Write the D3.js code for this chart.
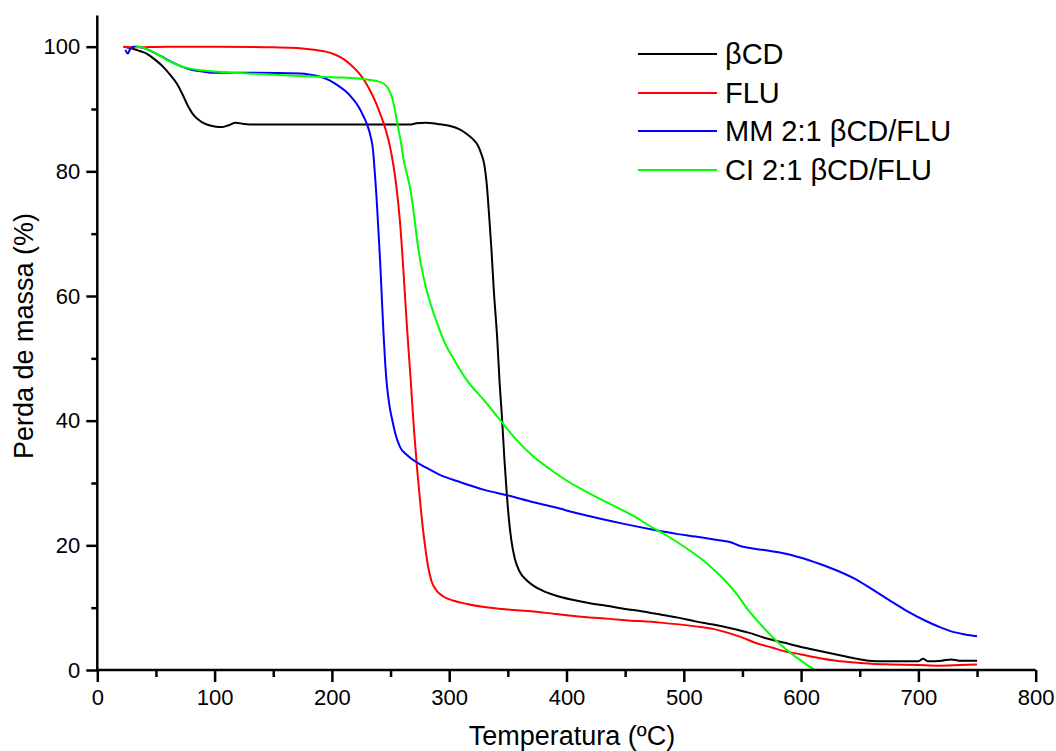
<!DOCTYPE html>
<html><head><meta charset="utf-8">
<script src="https://cdn.jsdelivr.net/npm/d3@7"></script>
<style>body{margin:0;background:#fff}svg{display:block}text{font-family:Arial,"Liberation Sans",sans-serif;fill:#000}</style>
</head><body>
<svg id="chart" width="1056" height="751"></svg>
<script>
const seriesNames = ["\u03B2CD", "FLU", "MM 2:1 \u03B2CD/FLU", "CI 2:1 \u03B2CD/FLU"];
const seriesColors = ["#000000", "#ff0000", "#0000ff", "#00ff00"];
const xTicks = [0, 100, 200, 300, 400, 500, 600, 700, 800];
const yTicks = [0, 20, 40, 60, 80, 100];
const xTitle = "Temperatura (\u00BAC)";
const yTitle = "Perda de massa (%)";

const betaCD = [[23,100],[30,99.7],[36,99.3],[42,98.9],[50,97.8],[56,96.8],[62,95.5],[68,94],[73,92.2],[77,90.6],[81,89.3],[86,88.3],[92,87.6],[100,87.2],[106,87.1],[112,87.4],[118,87.8],[125,87.6],[135,87.5],[175,87.5],[220,87.5],[266,87.5],[272,87.7],[280,87.8],[290,87.6],[300,87.3],[308,86.8],[315,86.0],[320,85.2],[324,84.3],[327,83],[330,81],[332,78],[334,73],[336,67.5],[338,61],[341,53],[343,46],[345,40.5],[347,34],[349,28.5],[351,24],[353,20.8],[356,17.8],[360,15.8],[366,14.4],[372,13.5],[380,12.7],[390,12],[404,11.3],[420,10.7],[434,10.3],[450,9.8],[465,9.4],[480,8.9],[495,8.4],[510,7.8],[525,7.3],[540,6.7],[555,6.0],[570,5.1],[585,4.4],[600,3.7],[615,3.1],[630,2.5],[645,1.9],[658,1.5],[670,1.4],[700,1.4],[704,1.8],[708,1.4],[720,1.5],[728,1.7],[735,1.5],[750,1.5]];
const flu = [[22,100],[30,99.9],[60,100],[100,100],[150,99.9],[170,99.8],[185,99.5],[195,99.2],[203,98.7],[210,98.0],[216,97.1],[222,96.0],[228,94.5],[233,92.8],[238,90.8],[242,88.8],[246,86.6],[249,84.4],[252,81.5],[255,77.5],[258,72],[261,64],[264,55],[267,47],[270,38.5],[273,31.5],[276,25.5],[279,20.5],[282,16.6],[285,14.2],[289,12.8],[295,11.8],[304,11.1],[315,10.6],[330,10.1],[350,9.7],[372,9.4],[390,9.0],[410,8.6],[430,8.3],[450,8.0],[480,7.6],[510,7.0],[525,6.6],[537,6.0],[550,5.2],[562,4.3],[575,3.6],[586,3.0],[600,2.5],[616,1.9],[630,1.5],[646,1.2],[660,1.0],[676,0.9],[700,0.8],[716,0.7],[735,0.8],[750,0.9]];
const mm21 = [[24,99.5],[26,98.9],[28,99.6],[31,100],[35,100],[42,99.6],[50,98.9],[57,98.2],[65,97.4],[72,96.8],[80,96.3],[90,96.0],[100,95.8],[130,95.8],[173,95.7],[182,95.5],[190,95.2],[198,94.6],[205,93.8],[212,92.8],[218,91.6],[223,90.3],[227,88.8],[230,87.5],[233,85.6],[235,83.5],[236.5,80],[238,76],[239.5,71],[241,66],[242.5,60],[244,54],[245.5,49],[247,45.5],[249,42.5],[251,40.5],[254,38],[258,35.8],[264,34.5],[270,33.6],[280,32.5],[292,31.3],[310,30.1],[330,28.9],[350,28],[372,26.9],[390,26.1],[410,25.1],[428,24.3],[450,23.4],[474,22.5],[495,21.8],[510,21.4],[530,20.8],[540,20.5],[548,19.9],[555,19.6],[570,19.2],[586,18.7],[600,18],[616,17],[630,16],[646,14.6],[660,13],[676,11.1],[690,9.5],[706,7.9],[718,6.9],[728,6.2],[740,5.7],[750,5.4]];
const ci21 = [[32,99.8],[36,100],[42,99.6],[50,98.9],[59,97.9],[68,97.1],[76,96.6],[85,96.3],[100,96.0],[116,95.8],[140,95.6],[173,95.3],[200,95.1],[227,94.8],[238,94.5],[244,94.1],[248,93.3],[251,92],[253,90.5],[255,88.5],[257,86.5],[259,84.5],[261,82],[264,79.5],[267,77],[270,73],[273,68.5],[276,65],[280,61.5],[284,58.8],[290,55.5],[295,53],[305,49.5],[315,46.5],[330,43.2],[343,40.2],[357,37],[372,34.2],[386,32.2],[400,30.4],[414,28.9],[428,27.5],[445,25.9],[460,24.4],[471,23.1],[486,21.5],[501,19.7],[515,17.8],[525,16.2],[534,14.6],[545,12.2],[555,9.6],[567,7.0],[580,4.5],[590,2.9],[600,1.5],[606,0.7],[612,0]];

const seriesData = [betaCD, flu, mm21, ci21];

const svg = d3.select("#chart");
const x = d3.scaleLinear().domain([0, 800]).range([97.3, 1035.7]);
const y = d3.scaleLinear().domain([0, 105]).range([670, 15.5]);

// curves
const line = d3.line().x(d => x(d[0])).y(d => y(d[1])).curve(d3.curveMonotoneX);
seriesData.forEach((s, i) => {
  svg.append("path").attr("d", line(s)).attr("fill", "none")
    .attr("stroke", seriesColors[i]).attr("stroke-width", 2).attr("stroke-linejoin", "round");
});

// axes
const xAxis = d3.axisBottom(x).tickValues(xTicks).tickSize(12).tickPadding(7).tickFormat(d3.format("d"));
const xMinor = d3.axisBottom(x).tickValues(d3.range(50, 800, 100)).tickSize(7).tickFormat("");
const yAxis = d3.axisLeft(y).tickValues(yTicks).tickSize(11).tickPadding(6).tickFormat(d3.format("d"));
const yMinor = d3.axisLeft(y).tickValues(d3.range(10, 100, 20)).tickSize(6).tickFormat("");

function style(g) {
  g.select(".domain").attr("stroke", "#000").attr("stroke-width", 2.5);
  g.selectAll(".tick line").attr("stroke", "#000").attr("stroke-width", 2.5);
  g.selectAll(".tick text").style("font-size", "22px").attr("fill", "#000");
}
const gx = svg.append("g").attr("transform", "translate(0,670)").call(xAxis); style(gx);
gx.select(".domain").attr("d", `M${x(0)},0H${x(800)}`);
const gxm = svg.append("g").attr("transform", "translate(0,670)").call(xMinor); style(gxm);
gxm.select(".domain").remove();
const gy = svg.append("g").attr("transform", "translate(97.3,0)").call(yAxis); style(gy);
gy.select(".domain").attr("d", `M0,${y(0)}V${y(105)}`);
const gym = svg.append("g").attr("transform", "translate(97.3,0)").call(yMinor); style(gym);
gym.select(".domain").remove();

// titles
svg.append("text").attr("x", 572).attr("y", 745).attr("text-anchor", "middle")
  .style("font-size", "27px").text(xTitle);
svg.append("text").attr("transform", "translate(33,336) rotate(-90)").attr("text-anchor", "middle")
  .style("font-size", "27px").text(yTitle);

// legend
const legendY = [54, 93, 131, 170];
seriesNames.forEach((n, i) => {
  svg.append("line").attr("x1", 638).attr("x2", 717).attr("y1", legendY[i]).attr("y2", legendY[i])
    .attr("stroke", seriesColors[i]).attr("stroke-width", 2);
  svg.append("text").attr("x", 725).attr("y", legendY[i] + 10).style("font-size", "29px").text(n);
});
</script>
</body></html>
